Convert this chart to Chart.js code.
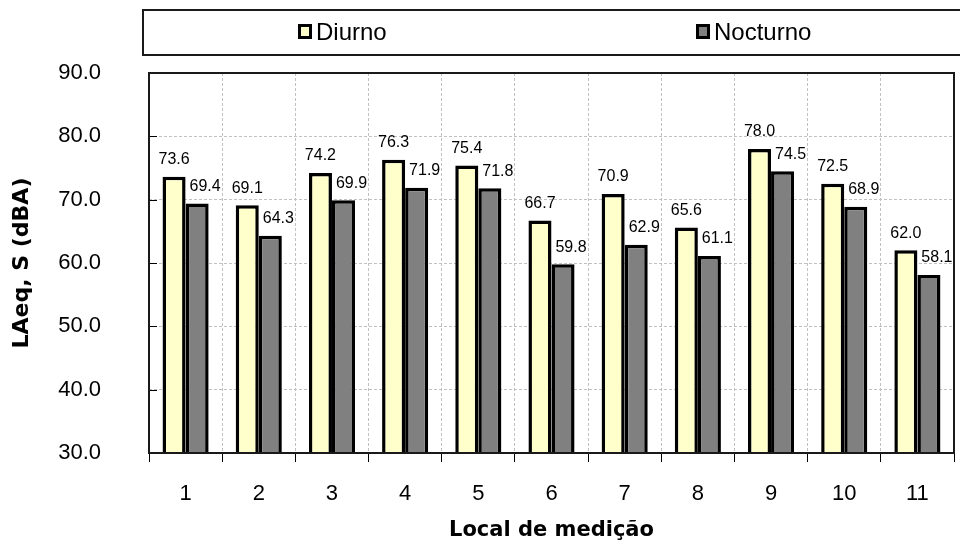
<!DOCTYPE html>
<html>
<head>
<meta charset="utf-8">
<script src="https://cdn.jsdelivr.net/npm/chart.js@4/dist/chart.umd.min.js"></script>
<style>
  html, body { margin: 0; padding: 0; background: #ffffff; }
  #wrap { width: 960px; height: 543px; }
</style>
</head>
<body>
<div id="wrap"><canvas id="c" width="960" height="543"></canvas></div>
<script>
// ---- data ----
const categories = ['1', '2', '3', '4', '5', '6', '7', '8', '9', '10', '11'];
const seriesNames = ['Diurno', 'Nocturno'];
const diurno   = [73.6, 69.1, 74.2, 76.3, 75.4, 66.7, 70.9, 65.6, 78.0, 72.5, 62.0];
const nocturno = [69.4, 64.3, 69.9, 71.9, 71.8, 59.8, 62.9, 61.1, 74.5, 68.9, 58.1];
const yMin = 30, yMax = 90, yStep = 10;
const yTitle = 'LAeq, S (dBA)';
const xTitle = 'Local de medição';

const FONT = '"Liberation Sans", Arial, sans-serif';
const TITLE_FONT = '"DejaVu Sans", "Liberation Sans", sans-serif';

// plot frame, inward y ticks, value labels, legend box
const framePlugin = {
  id: 'frame',
  afterDatasetsDraw(chart) {
    const ctx = chart.ctx;
    const a = chart.chartArea;
    const y = chart.scales.y;
    ctx.save();
    ctx.strokeStyle = '#000';
    ctx.lineWidth = 1;
    for (let v = yMin; v <= yMax; v += yStep) {
      const py = Math.round(y.getPixelForValue(v)) + 0.5;
      ctx.beginPath();
      ctx.moveTo(a.left, py);
      ctx.lineTo(a.left + 8, py);
      ctx.stroke();
    }
    ctx.strokeStyle = '#1a1a1a';
    ctx.lineWidth = 2;
    ctx.strokeRect(a.left, a.top, a.right - a.left, a.bottom - a.top);
    ctx.fillStyle = '#000';
    ctx.font = '16px ' + FONT;
    ctx.textAlign = 'center';
    ctx.textBaseline = 'middle';
    chart.data.datasets.forEach((ds, di) => {
      const meta = chart.getDatasetMeta(di);
      meta.data.forEach((bar, i) => {
        const dx = di === 0 ? 0 : 8;
        ctx.fillText(ds.data[i].toFixed(1), bar.x + dx, bar.y - 17);
      });
    });
    ctx.restore();
  },
  afterDraw(chart) {
    const ctx = chart.ctx;
    ctx.save();
    ctx.strokeStyle = '#1a1a1a';
    ctx.lineWidth = 2;
    ctx.strokeRect(143, 10, 830, 45);
    const xs = [298, 696];
    ctx.font = '24px ' + FONT;
    ctx.textAlign = 'left';
    ctx.textBaseline = 'middle';
    chart.data.datasets.forEach((ds, i) => {
      const x = xs[i];
      ctx.fillStyle = '#000';
      ctx.fillRect(x, 24, 14, 15);
      ctx.fillStyle = ds.backgroundColor;
      ctx.fillRect(x + 3, 27, 8, 9);
      ctx.fillStyle = '#000';
      ctx.fillText(ds.label, x + 18, 33);
    });
    ctx.restore();
  }
};

new Chart(document.getElementById('c'), {
  type: 'bar',
  data: {
    labels: categories,
    datasets: [
      { label: seriesNames[0], data: diurno, backgroundColor: '#FFFFCC', borderColor: '#000', borderWidth: 3.5, borderSkipped: false },
      { label: seriesNames[1], data: nocturno, backgroundColor: '#808080', borderColor: '#000', borderWidth: 3.5, borderSkipped: false }
    ]
  },
  options: {
    responsive: false,
    animation: false,
    devicePixelRatio: 1,
    layout: { padding: { top: 73, right: 6, left: 0, bottom: 0 } },
    datasets: { bar: { barPercentage: 1.0, categoryPercentage: 0.63 } },
    plugins: { legend: { display: false }, tooltip: { enabled: false } },
    scales: {
      x: {
        afterFit(s) { s.height = 90; },
        grid: { display: true, offset: true, color: '#c0c0c0', lineWidth: 1, drawTicks: true, tickLength: 9, tickColor: '#000', tickWidth: 1 },
        border: { display: false, dash: [3, 2] },
        ticks: { font: { size: 22, family: FONT }, color: '#000', padding: 19, maxRotation: 0 },
        title: { display: true, text: xTitle, font: { size: 21, weight: 'bold', family: TITLE_FONT }, color: '#000', padding: { top: 0, bottom: 0 } }
      },
      y: {
        min: yMin, max: yMax,
        afterFit(s) { s.width = 149; },
        grid: { display: true, color: '#c0c0c0', lineWidth: 1, drawTicks: false },
        border: { display: false, dash: [3, 2] },
        ticks: { stepSize: yStep, font: { size: 22, family: FONT }, color: '#000', padding: 48, callback: v => Number(v).toFixed(1) },
        title: { display: true, text: yTitle, font: { size: 22, weight: 'bold', family: TITLE_FONT }, color: '#000', padding: { top: 9, bottom: 0 } }
      }
    }
  },
  plugins: [framePlugin]
});
</script>
</body>
</html>
